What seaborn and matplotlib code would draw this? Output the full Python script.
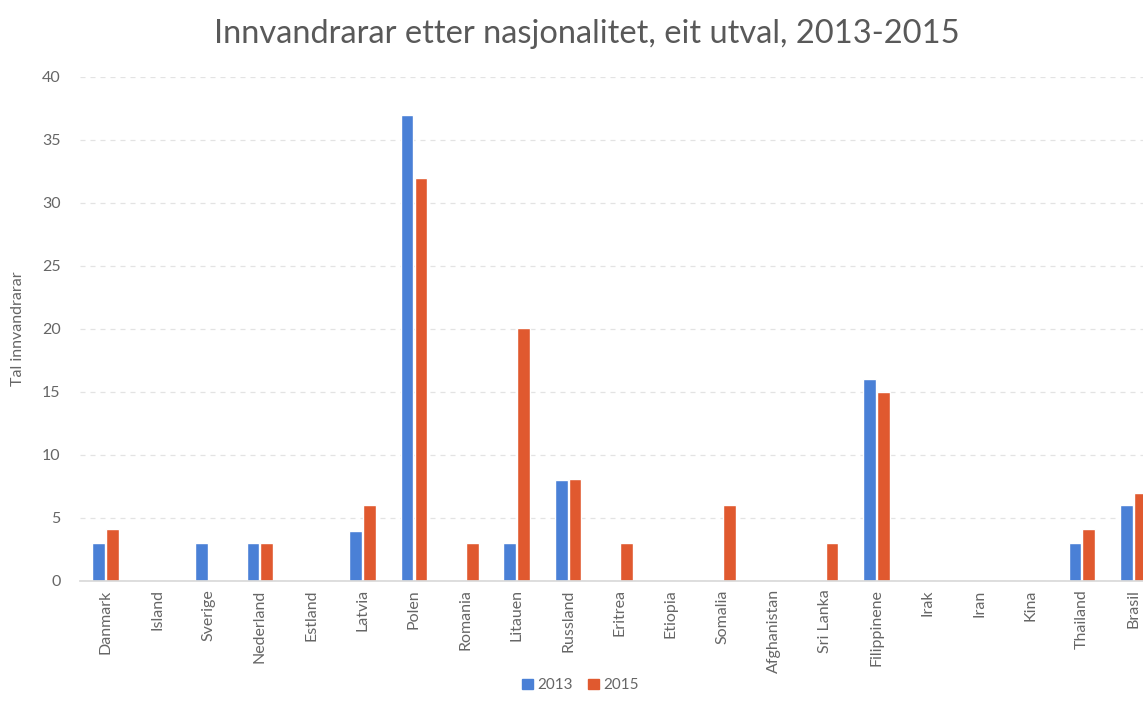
"""
Innvandrarar etter nasjonalitet, eit utval, 2013-2015 - gruppert søylediagram.
"""
import pandas as pd
import matplotlib
matplotlib.use("Agg")
import matplotlib.pyplot as plt
import seaborn as sns

countries = ["Danmark", "Island", "Sverige", "Nederland", "Estland", "Latvia", "Polen",
             "Romania", "Litauen", "Russland", "Eritrea", "Etiopia", "Somalia", "Afghanistan",
             "Sri Lanka", "Filippinene", "Irak", "Iran", "Kina", "Thailand", "Brasil"]
vals_2013 = [3, 0, 3, 3, 0, 4, 37, 0, 3, 8, 0, 0, 0, 0, 0, 16, 0, 0, 0, 3, 6]
vals_2015 = [4.1, 0, 0, 3, 0, 6, 32, 3, 20.1, 8.1, 3, 0, 6, 0, 3, 15, 0, 0, 0, 4.1, 7]
years = ["2013", "2015"]
colors = ["#4A80D6", "#E0592F"]

df = pd.concat([
    pd.DataFrame({"land": countries, "tal": vals_2013, "år": years[0]}),
    pd.DataFrame({"land": countries, "tal": vals_2015, "år": years[1]}),
])

sns.set_theme(style="white")
plt.rcParams["font.family"] = ["Lato", "DejaVu Sans"]
grey = "#595959"

fig = plt.figure(figsize=(11.43, 7.19), dpi=100)
# plotområdet er skore av til høgre i originalen
ax = fig.add_axes([0.07, 0.192, 0.944, 0.701])

sns.barplot(data=df, x="land", y="tal", hue="år", palette=colors, width=0.54,
            gap=0.08, saturation=1, ax=ax, legend=False)

ax.set_ylim(0, 40)
ax.set_xlim(-0.5, len(countries) - 0.5)
ax.set_yticks(range(0, 41, 5))
ax.yaxis.grid(True, linestyle=(0, (4, 4)), color="#e3e3e3", linewidth=0.9)
ax.set_axisbelow(True)
for s in ["top", "right", "left"]:
    ax.spines[s].set_visible(False)
ax.spines["bottom"].set_color("#d9d9d9")
ax.tick_params(axis="both", length=0, colors="#666666", labelsize=11.5)
ax.tick_params(axis="y", pad=14)
ax.tick_params(axis="x", pad=6)
plt.setp(ax.get_xticklabels(), rotation=90)
ax.set_xlabel("")
ax.set_ylabel("Tal innvandrarar", color="#666666", fontsize=11.5, labelpad=12)

fig.text(0.513, 0.953, "Innvandrarar etter nasjonalitet, eit utval, 2013-2015",
         ha="center", va="center", fontsize=23.5, color=grey)

handles = [plt.Rectangle((0, 0), 1, 1, color=c) for c in colors]
fig.legend(handles, years, loc="center", bbox_to_anchor=(0.508, 0.047), ncol=2,
           frameon=False, fontsize=11, labelcolor="#666666", handlelength=0.7,
           handleheight=0.7, handletextpad=0.3, columnspacing=1.0)

fig.savefig("out.png", dpi=100)
